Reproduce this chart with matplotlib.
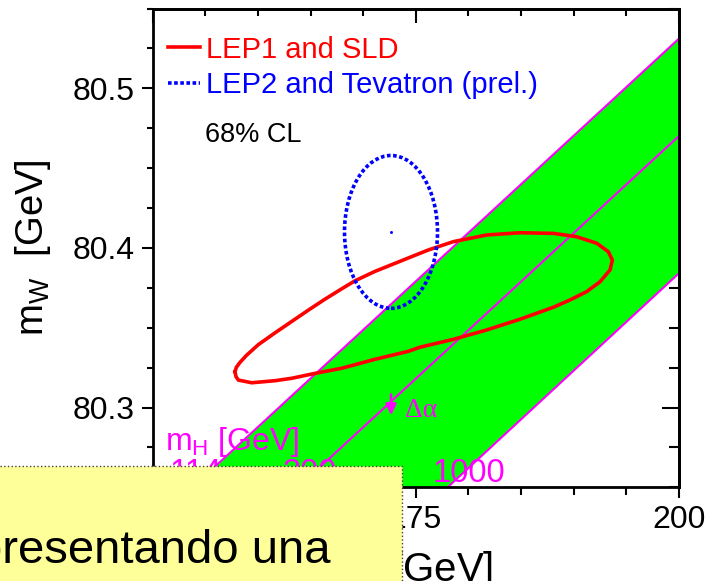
import numpy as np
import matplotlib
matplotlib.use("Agg")
import matplotlib.pyplot as plt
from matplotlib.lines import Line2D
from matplotlib.patches import Ellipse, Rectangle
from matplotlib.ticker import MultipleLocator

plt.rcParams['font.family'] = ['Liberation Sans', 'DejaVu Sans']
plt.rcParams['mathtext.fontset'] = 'custom'
plt.rcParams['mathtext.rm'] = 'Liberation Sans'

# LEP1 + SLD indirect fit, 68% CL contour in the (mt, mW) plane
lep1_mt = [157.82, 157.95, 158.30, 158.90, 160.04, 161.63, 163.21, 164.79, 166.38, 167.97, 169.23,
           171.13, 172.72, 174.30, 176.20, 178.57, 181.75, 184.91, 188.08, 190.30, 192.21,
           193.31, 193.69, 193.47, 192.52, 191.25, 189.67, 188.08, 184.91, 181.75, 178.57,
           175.41, 174.30, 171.13, 167.97, 165.43, 163.21, 161.63, 159.41, 158.14, 157.92]
lep1_mw = [80.3224, 80.3252, 80.3283, 80.3326, 80.3394, 80.3468, 80.3539, 80.3610, 80.3679, 80.3744, 80.3794,
           80.3853, 80.3895, 80.3937, 80.3987, 80.4039, 80.4081, 80.4095, 80.4091, 80.4070, 80.4029,
           80.3976, 80.3924, 80.3862, 80.3788, 80.3726, 80.3674, 80.3628, 80.3553, 80.3486, 80.3427,
           80.3378, 80.3352, 80.3302, 80.3246, 80.3214, 80.3183, 80.3168, 80.3155, 80.3172, 80.3193]

# LEP2 + Tevatron direct measurements (68% CL ellipse)
direct_mt, direct_mw = 172.65, 80.410
direct_dmt, direct_dmw = 4.42, 0.0479

# SM prediction for mH = 114, 300, 1000 GeV at both ends of the mt range
mt_ends = [150, 200]
mw_mh114 = [80.227, 80.531]
mw_mh300 = [80.166, 80.470]
mw_mh1000 = [80.079, 80.384]
mh_labels = ['114', '300', '1000']
mh_label_mt = [151.6, 162.4, 176.6]
mh_label_mw = 80.2533

# shift of the band from the uncertainty on Delta alpha
dalpha_mt = 172.65
dalpha_mw = [80.310, 80.2935]

fig = plt.figure(figsize=(7.19, 5.81), dpi=100)
ax = fig.add_axes([0.2124, 0.16127, 0.7316, 0.8241])

ax.fill_between(mt_ends, mw_mh1000, mw_mh114, color='#00ff00', lw=0, zorder=1)
for mw in (mw_mh114, mw_mh300, mw_mh1000):
    ax.plot(mt_ends, mw, color='#ff00ff', lw=1.5, zorder=2)

ax.plot(lep1_mt + lep1_mt[:1], lep1_mw + lep1_mw[:1], color='red', lw=2.6,
        solid_joinstyle='round', zorder=4)

ell = Ellipse((direct_mt, direct_mw), 2 * direct_dmt, 2 * direct_dmw, fill=False,
              edgecolor='blue', lw=2.6, linestyle=(0, (1.0, 0.7)), zorder=5)
ax.add_patch(ell)
ax.plot(direct_mt, direct_mw, marker='s', ms=1, color='blue', zorder=5)

# magenta annotations
ax.text(151.17, 80.2734, r'm$_\mathregular{H}$ [GeV]', color='#ff00ff', fontsize=23, zorder=3)
for lab, x in zip(mh_labels, mh_label_mt):
    ax.text(x, mh_label_mw, lab, color='#ff00ff', fontsize=23.5, zorder=3)
ax.annotate('', xy=(dalpha_mt, dalpha_mw[1]), xytext=(dalpha_mt, dalpha_mw[0]),
            arrowprops=dict(arrowstyle='-|>', color='#ff00ff', lw=1.8, mutation_scale=16),
            zorder=3)
ax.text(173.98, 80.294, 'Δα', color='#ff00ff', fontsize=20, family='Liberation Serif', zorder=3)

handles = [Line2D([], [], color='red', lw=2.6),
           Line2D([], [], color='blue', lw=2.6, linestyle=(0, (1.0, 0.7)))]
ax.legend(handles, ['LEP1 and SLD', 'LEP2 and Tevatron (prel.)'], loc='upper left',
          bbox_to_anchor=(0.029, 0.9436), borderaxespad=0, borderpad=0, frameon=False,
          fontsize=21, handlelength=1.1, handletextpad=0.2, labelspacing=0.25,
          labelcolor=['red', 'blue'])
ax.text(0.0994, 0.736, '68% CL', transform=ax.transAxes, fontsize=19.5, va='center')

ax.set_xlim(150, 200)
ax.set_ylim(80.25, 80.55)
ax.xaxis.set_major_locator(MultipleLocator(25))
ax.xaxis.set_minor_locator(MultipleLocator(5))
ax.yaxis.set_major_locator(MultipleLocator(0.1))
ax.yaxis.set_minor_locator(MultipleLocator(0.025))
ax.yaxis.set_major_formatter(plt.FormatStrFormatter('%.1f'))
ax.tick_params(which='both', labelsize=23, width=1.5, direction='out', pad=5)
ax.tick_params(axis='y', which='major', length=8)
ax.tick_params(axis='y', which='minor', length=4.5)
ax.tick_params(axis='x', which='major', length=8)
ax.tick_params(axis='x', which='minor', length=5.5)
for s in ax.spines.values():
    s.set_linewidth(2)

# inward ticks on top and right
top = ax.secondary_xaxis('top')
top.xaxis.set_major_locator(MultipleLocator(25))
top.xaxis.set_minor_locator(MultipleLocator(5))
top.tick_params(which='both', direction='in', width=1.5, labeltop=False)
top.tick_params(which='major', length=10)
top.tick_params(which='minor', length=5)
right = ax.secondary_yaxis('right')
right.yaxis.set_major_locator(MultipleLocator(0.1))
right.yaxis.set_minor_locator(MultipleLocator(0.025))
right.tick_params(which='both', direction='in', width=1.5, labelright=False)
right.tick_params(which='major', length=12)
right.tick_params(which='minor', length=7)
for sec in (top, right):
    for s in sec.spines.values():
        s.set_linewidth(2)

ax.set_ylabel(r'm$_\mathregular{W}$  [GeV]', fontsize=27.5)
ax.yaxis.set_label_coords(-0.19, 0.5)
ax.set_xlabel(r'm$_\mathregular{t}$  [GeV]', fontsize=29)
ax.xaxis.set_label_coords(0.488, -0.128)

# slide text box laid over the lower left corner
box = Rectangle((-0.02, -0.05), 0.02 + 401.5 / 719, 0.05 + 1 - 466 / 581,
                transform=fig.transFigure, facecolor='#ffff99', edgecolor='#404040',
                lw=1, linestyle=':', zorder=10)
fig.add_artist(box)
fig.text(-23.5 / 719, 1 - 563 / 581, 'presentando una', fontsize=34, va='baseline',
         zorder=11)

fig.savefig('out.png', dpi=100)
